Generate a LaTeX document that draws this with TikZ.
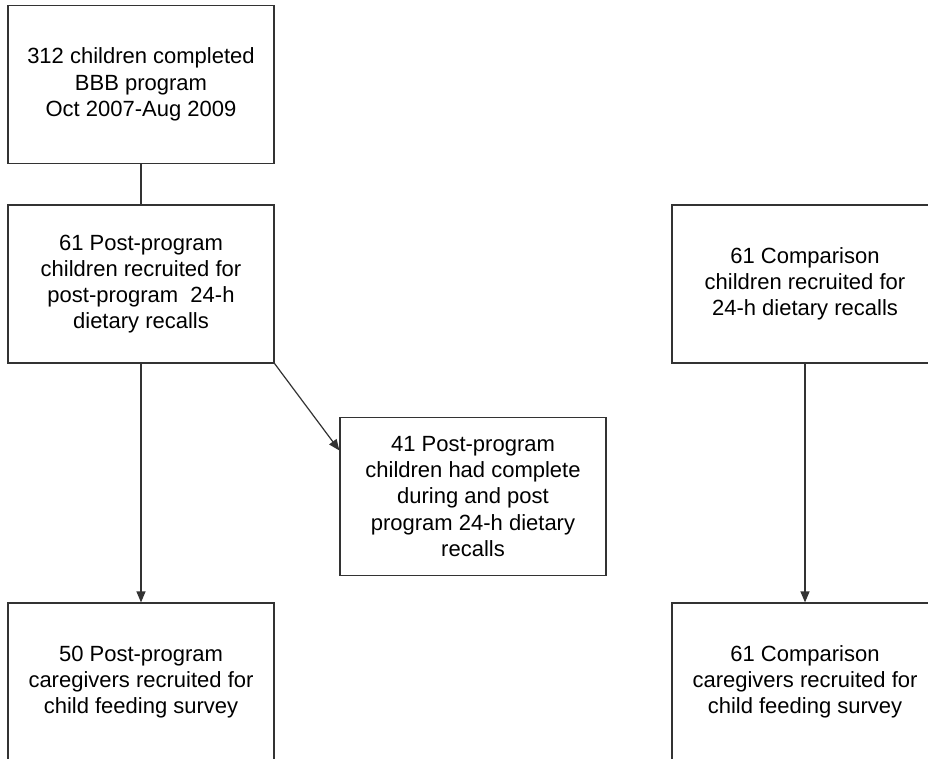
\documentclass[tikz,border=0pt]{standalone}
\usepackage{fontspec}
\setmainfont{Liberation Sans}
\usetikzlibrary{arrows.meta}

\tikzset{
  flowbox/.style={draw=black!80, line width=1.2pt, minimum width=266pt,
    minimum height=158pt, inner sep=0pt, align=center,
    font=\fontsize{22}{26.2}\selectfont},
  flowline/.style={draw=black!80, line width=1.2pt},
  flowarrow/.style={flowline, -{Triangle[width=9pt,length=11pt]}}
}

\begin{document}
\begin{tikzpicture}[x=1pt,y=-1pt]

  \clip (0,0) rectangle (928,759);
  \fill[white] (0,0) rectangle (928,759);

  \node (TOP) at (141,84.5) [flowbox]  {312 children completed\\BBB program\\Oct 2007-Aug 2009};
  \node (POST) at (141,284) [flowbox]  {61 Post-program\\children recruited for\\post-program~ 24-h\\dietary recalls};
  \node (FULL) at (473,496.5) [flowbox]  {41 Post-program\\children had complete\\during and post\\program 24-h dietary\\recalls};
  \node (COMP) at (805,284) [flowbox]  {61 Comparison\\children recruited for\\24-h dietary recalls};

  \node (CAREPOST) at (141,682) [flowbox]  {50 Post-program\\caregivers recruited for\\child feeding survey};
  \node (CARECOMP) at (805,682) [flowbox]  {61 Comparison\\caregivers recruited for\\child feeding survey};

  \draw[flowline] (TOP) -- (POST);
  \draw[flowarrow] (POST.south east) -- (FULL.161.5);
  \draw[flowarrow] (POST) -- (CAREPOST);
  \draw[flowarrow] (COMP) -- (CARECOMP);

\end{tikzpicture}
\end{document}
